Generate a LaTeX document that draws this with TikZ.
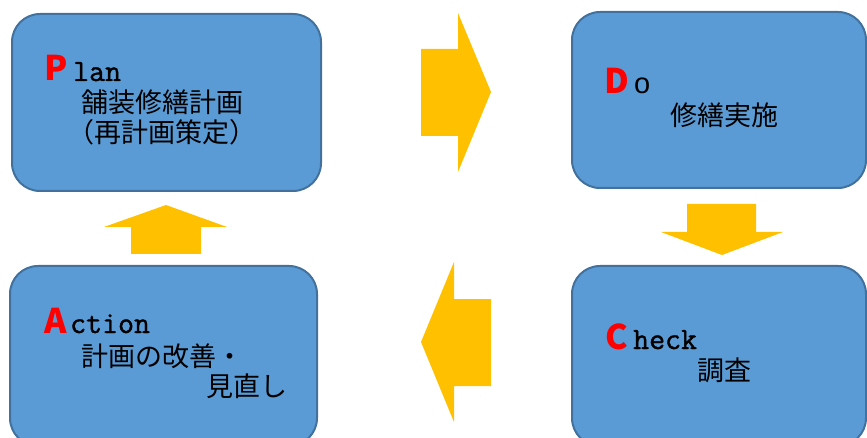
\documentclass[tikz,border=0pt]{standalone}
\usepackage{fontspec}
\newfontfamily\jp{Noto Sans CJK JP}
\newfontfamily\hd{Noto Sans CJK JP}
\newfontfamily\lsans{Liberation Sans}
\newfontfamily\tmono{Latin Modern Mono}[FakeBold=1.2]
\definecolor{boxfill}{HTML}{5B9BD5}
\definecolor{boxline}{HTML}{41719C}
\definecolor{arrowfill}{HTML}{FFC000}
\definecolor{redletter}{HTML}{FF0000}
\tikzset{
  pdcabox/.style={draw=boxline, fill=boxfill, line width=2pt, rounded corners=28pt, inner sep=0pt},
  blockarrow/.style={fill=arrowfill, draw=none},
  initial/.style={anchor=base west, inner sep=0pt, text=redletter, font=\hd\bfseries\fontsize{34}{34}\selectfont},
  rest/.style={anchor=base west, inner sep=0pt, font=\tmono\fontsize{31}{31}\selectfont},
  jtext/.style={anchor=base west, inner sep=0pt, font=\jp\fontsize{27}{27}\selectfont},
}
\begin{document}
\begin{tikzpicture}[x=1pt, y=-1pt]
\useasboundingbox (0,0) rectangle (867,438);
\clip (0,0) rectangle (867,438);
% boxes
\node[pdcabox, minimum width=309pt, minimum height=177pt] (plan) at (166.5,102.5) {};
\node[pdcabox, minimum width=294pt, minimum height=176pt] (do) at (719,100) {};
\node[pdcabox, minimum width=307pt, minimum height=180pt] (act) at (163.5,356) {};
\node[pdcabox, minimum width=294pt, minimum height=180pt] (chk) at (719,356) {};
% block arrows
\fill[blockarrow] (421,49) -- (458,49) -- (458,13) -- (491,92) -- (458,172) -- (458,136) -- (421,136) -- cycle;
\fill[blockarrow] (687,204) -- (756,204) -- (756,232) -- (783,232) -- (722,255) -- (661,232) -- (687,232) -- cycle;
\fill[blockarrow] (491,299) -- (454,299) -- (454,262) -- (421,342) -- (454,422) -- (454,386) -- (491,386) -- cycle;
\fill[blockarrow] (131,254) -- (131,227) -- (104,227) -- (166,205) -- (227,227) -- (201,227) -- (201,254) -- cycle;
% Plan
\node[initial] (pP) at (44,81) {P};
\node[rest] (pRest) at (73,81) {lan};
\node[jtext] (pL1) at (81,113) {舗装修繕計画};
\node[jtext] (pL2) at (81,143) {\addfontfeature{RawFeature=+halt}（再計画策定）};
% Do
\node[initial] (dD) at (604,94) {D};
\node[rest, font=\lsans\fontsize{29}{29}\selectfont] (dRest) at (634,94) {o};
\node[jtext] (dL1) at (670,126) {修繕実施};
% Check
\node[initial] (cC) at (605,349) {C};
\node[rest] (cRest) at (633,349) {heck};
\node[jtext] (cL1) at (697,380) {調査};
% Action
\node[initial] (aA) at (44,333) {A};
\node[rest] (aRest) at (70,333) {ction};
\node[jtext] (aL1) at (81,366) {計画の改善・};
\node[jtext] (aL2) at (206,396) {見直し};
\end{tikzpicture}
\end{document}
